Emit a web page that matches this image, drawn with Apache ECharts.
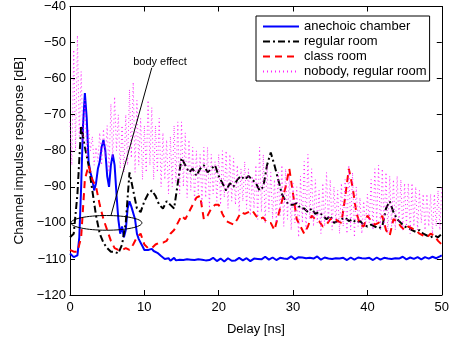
<!DOCTYPE html>
<html>
<head>
<meta charset="utf-8">
<script src="https://cdn.jsdelivr.net/npm/echarts@6/dist/echarts.min.js"></script>
<style>
  html, body { margin: 0; padding: 0; background: #fff; }
  #chart { width: 452px; height: 341px; }
</style>
</head>
<body>
<div id="chart"></div>
<script>
// sample spacing (ns)
const fineStep = 0.25
const coarseStep = 0.5

const seriesNames = ['anechoic chamber', 'regular room', 'class room', 'nobody, regular room']

// anechoic chamber, every 0.25 ns
const anechoic = [
  -108.5, -109, -109.5, -110, -109, -104, -90, -73, -64, -71,
  -83, -86, -88, -91, -89, -85, -83, -79, -77, -80,
  -87, -90, -84, -81, -84, -92, -99, -103, -101, -104,
  -102, -96, -94, -95.5, -95, -99, -103, -104.5, -105.5, -106.5,
  -107.5, -108, -107.5, -107, -107.2, -107.8, -108, -108.3, -108.6, -109.2,
  -109.6, -110,
  -110.2, -109.8, -110.5, -110.1, -109.7, -110.4, -110.8, -110.2, -109.9, -110.3,
  -110.6, -110.1, -109.8, -110.2, -110.7, -110.3, -109.9, -110.1, -110.5, -110.2,
  -109.8, -110.4, -110.9, -110.3, -110.0, -109.7, -110.2, -110.6, -110.1, -109.9,
  -110.3, -110.7, -110.2, -109.8, -110.1, -110.5, -111.0, -110.4, -110.0, -109.7,
  -110.1, -110.4, -110.2, -109.8, -110.0, -110.6, -110.3, -109.9, -109.6, -110.0,
  -110.3, -110.1, -109.7, -109.4, -109.8, -110.2, -110.0, -109.6, -109.9, -110.3,
  -110.1, -109.7, -109.5, -109.9, -110.2, -110.0, -109.6, -109.3, -109.7, -110.1,
  -109.9, -109.5, -109.2, -109.6, -110.0, -109.8, -109.4, -109.7, -110.1, -109.9,
  -109.5, -109.3, -109.8, -110.2, -110.0, -109.6, -109.4, -109.9, -110.3, -110.0,
  -109.6, -109.8, -110.2, -109.9, -109.5, -109.7, -110.1, -110.3, -109.9, -109.6,
  -109.8, -110.2, -110.0, -109.6, -109.4, -109.8, -110.1, -109.9, -109.5, -109.7,
  -110.0, -110.3, -109.9, -109.6, -109.8, -110.2, -110.0, -109.7, -109.5, -109.9,
  -110.2, -110.0, -109.6, -109.8, -110.1, -109.9, -109.6, -109.4, -109.8, -110.1,
  -109.9, -109.6, -109.8, -110.0, -109.7, -109.5, -109.8, -110.1, -109.8, -109.5,
  -109.7, -109.9, -109.6, -109.4, -109.6, -109.8, -109.5, -109.3, -109.0
]

// regular room, every 0.5 ns
const regularRoom = [
  -104, -103, -92, -73, -79, -84, -91, -98, -103, -105.5,
  -107, -108, -108, -108.5, -106, -100, -86, -91, -96, -97,
  -94, -92, -91, -92.5, -95, -96, -94, -95, -96, -89,
  -82, -84, -86, -85, -87, -85, -84, -86, -85, -84,
  -87, -89, -91, -89, -90, -88, -87, -88, -87, -88,
  -89, -91, -90, -84, -80.5, -84, -88, -92, -94, -95,
  -95, -94.5, -96, -96, -97, -96, -97.5, -97, -98, -99,
  -98, -100, -99.5, -99, -98.5, -99.5, -99, -100, -99.5, -100.5,
  -101, -100.5, -101, -101.5, -101, -96, -94, -97, -99, -100,
  -101, -101.5, -102, -102.5, -102, -103, -103.5, -104, -103.5, -104,
  -103
]

// class room, every 0.5 ns
const classRoom = [
  -107.5, -108, -108, -104, -88, -84, -88, -90, -95, -99,
  -102, -105, -107, -107.5, -107.5, -107, -107.5, -106, -104, -103,
  -106, -107, -107, -106, -105.5, -105.5, -105, -103, -102, -100,
  -98, -99, -97, -95, -93, -92.5, -99, -98, -96, -95,
  -95, -97.5, -99.5, -100, -100.5, -99, -97, -97.5, -97, -96.5,
  -98, -99, -98.5, -100, -100, -102, -98, -94, -90, -85,
  -92, -99, -101, -103, -101, -98, -99, -99.5, -101, -100.5,
  -99, -98.5, -99.5, -100, -93, -85, -90, -97, -100.5, -101,
  -98, -99.5, -100.5, -100, -98, -102, -103.5, -99, -99.5, -101,
  -102, -101, -101.5, -102, -103, -103.5, -104, -103, -103.5, -105,
  -106
]

// nobody, regular room, every 0.25 ns (fast ripple)
const nobodyRoom = [
  -72, -84, -52, -80, -48, -76, -58, -78, -66, -82,
  -74, -80, -76, -84, -79, -83, -75, -84, -74, -82,
  -73, -86, -67, -82, -65, -80, -70, -85, -73, -86,
  -70, -84, -63, -82, -61, -86, -66, -84, -71, -88,
  -73, -86, -66, -84, -68, -88, -73, -86, -71, -90,
  -75, -88, -77, -92, -76, -90, -73, -89, -72, -92,
  -72, -90, -75, -93, -77, -91, -79, -94, -80, -92,
  -81, -95, -79, -93, -79, -96, -81, -92, -83, -94,
  -81, -95, -80, -93, -80, -96, -81, -94, -82, -95,
  -84, -97, -85, -94, -83, -96, -85, -98, -87, -96,
  -84, -99, -79, -97, -81, -100, -84, -97, -86, -99,
  -88, -100, -86, -98, -84, -101, -85, -99, -87, -102,
  -89, -100, -90, -104, -87, -100, -83, -102, -81, -99,
  -85, -101, -88, -100, -91, -103, -89, -101, -86, -100,
  -88, -102, -90, -100, -91, -103, -89, -101, -88, -103,
  -84, -102, -86, -104, -90, -101, -93, -103, -94, -101,
  -92, -100, -88, -102, -85, -100, -84, -102, -85, -101,
  -86, -103, -87, -101, -88, -102, -87, -100, -88, -102,
  -89, -101, -89, -103, -89, -101, -90, -102, -91, -100,
  -92, -102, -92, -101, -92, -103, -92, -101, -91, -102,
  -90
]

const xTicks = [0, 50, 10]     // min, max, step
const yTicks = [-120, -40, 10]

// "body effect" note: ellipse centre / radii and pointer line in data units
const noteEllipse = [4.9, -100, 4.77, 2.04]
const noteLine = [[5.5, -98], [11.0, -57]]
const noteText = [12.1, -55.5]

const font = 'Liberation Sans, Arial, Helvetica, sans-serif'

function toPairs (vals, step) {
  return vals.map((v, i) => [i * step, v])
}

function minus (v) {
  return v < 0 ? '\u2212' + Math.abs(v) : String(v)
}

const chart = echarts.init(document.getElementById('chart'))

const axisCommon = {
  type: 'value',
  axisLine: { show: true, onZero: false, lineStyle: { color: '#000', width: 1 } },
  axisTick: { show: true, inside: true, length: 5, lineStyle: { color: '#000' } },
  splitLine: { show: false }
}

chart.setOption({
  animation: false,
  backgroundColor: '#fff',
  textStyle: { fontFamily: font },
  grid: { left: 70, right: 10, top: 6, bottom: 41 },
  legend: {
    data: seriesNames,
    orient: 'vertical',
    left: 256,
    top: 16,
    padding: [4, 3, 3, 6],
    itemWidth: 36,
    itemHeight: 13,
    itemGap: 2,
    backgroundColor: '#fff',
    borderColor: '#000',
    borderWidth: 1,
    borderRadius: 0,
    itemStyle: { opacity: 0 },
    textStyle: { fontSize: 13, color: '#000', fontFamily: font }
  },
  xAxis: [
    Object.assign({}, axisCommon, {
      min: xTicks[0], max: xTicks[1], interval: xTicks[2],
      position: 'bottom',
      name: 'Delay [ns]',
      nameLocation: 'middle',
      nameGap: 28,
      nameTextStyle: { fontSize: 13, color: '#000', fontFamily: font },
      axisLabel: { margin: 6, fontSize: 13, color: '#000', fontFamily: font }
    }),
    Object.assign({}, axisCommon, {
      min: xTicks[0], max: xTicks[1], interval: xTicks[2],
      position: 'top',
      axisLabel: { show: false }
    })
  ],
  yAxis: [
    Object.assign({}, axisCommon, {
      min: yTicks[0], max: yTicks[1], interval: yTicks[2],
      position: 'left',
      name: 'Channel impulse response [dB]',
      nameLocation: 'middle',
      nameGap: 34,
      nameTextStyle: { fontSize: 13.5, color: '#000', fontFamily: font },
      axisLabel: { margin: 4, fontSize: 13, color: '#000', fontFamily: font, formatter: minus }
    }),
    Object.assign({}, axisCommon, {
      min: yTicks[0], max: yTicks[1], interval: yTicks[2],
      position: 'right',
      axisLabel: { show: false }
    })
  ],
  series: [
    {
      name: seriesNames[0],
      type: 'line',
      symbol: 'none',
      data: toPairs(anechoic, fineStep),
      lineStyle: { color: '#0000ff', width: 2 },
      itemStyle: { color: '#0000ff' }
    },
    {
      name: seriesNames[1],
      type: 'line',
      symbol: 'none',
      data: toPairs(regularRoom, coarseStep),
      lineStyle: { color: '#000', width: 2, type: [7, 3, 2, 3] },
      itemStyle: { color: '#000' }
    },
    {
      name: seriesNames[2],
      type: 'line',
      symbol: 'none',
      data: toPairs(classRoom, coarseStep),
      lineStyle: { color: '#ff0000', width: 2, type: [7, 5] },
      itemStyle: { color: '#ff0000' }
    },
    {
      name: seriesNames[3],
      type: 'line',
      symbol: 'none',
      data: toPairs(nobodyRoom, fineStep),
      lineStyle: { color: '#ff00ff', width: 1, type: [1, 3], opacity: 0.85 },
      itemStyle: { color: '#ff00ff' }
    }
  ]
})

// annotation drawn in pixel space from data coords
const c = chart.convertToPixel({ gridIndex: 0 }, [noteEllipse[0], noteEllipse[1]])
const e = chart.convertToPixel({ gridIndex: 0 }, [noteEllipse[0] + noteEllipse[2], noteEllipse[1] + noteEllipse[3]])
const p1 = chart.convertToPixel({ gridIndex: 0 }, noteLine[0])
const p2 = chart.convertToPixel({ gridIndex: 0 }, noteLine[1])
const pt = chart.convertToPixel({ gridIndex: 0 }, noteText)

chart.setOption({
  graphic: [
    {
      type: 'ellipse',
      shape: { cx: c[0], cy: c[1], rx: e[0] - c[0], ry: c[1] - e[1] },
      style: { fill: 'none', stroke: '#000', lineWidth: 1 },
      z: 10
    },
    {
      type: 'line',
      shape: { x1: p1[0], y1: p1[1], x2: p2[0], y2: p2[1] },
      style: { stroke: '#000', lineWidth: 1 },
      z: 10
    },
    {
      type: 'text',
      x: pt[0],
      y: pt[1],
      style: { text: 'body effect', fill: '#000', font: '11px ' + font, align: 'center', verticalAlign: 'middle' },
      z: 10
    }
  ]
})
</script>
</body>
</html>
